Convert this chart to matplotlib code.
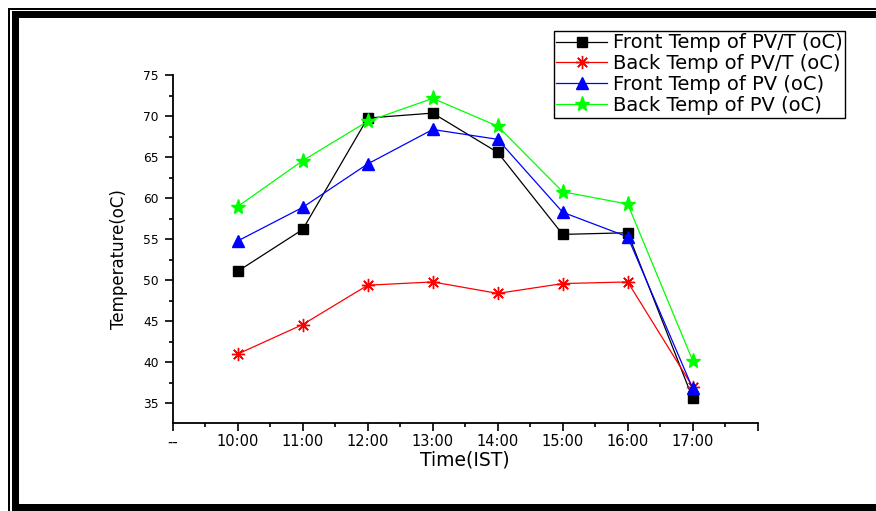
import numpy as np
import matplotlib
matplotlib.use("Agg")
import matplotlib.pyplot as plt
from matplotlib.patches import Rectangle

plt.rcParams['font.family'] = ['DejaVu Sans']

# data
times = ['--', '10:00', '11:00', '12:00', '13:00', '14:00', '15:00', '16:00', '17:00', '']
front_pvt = [51.1, 56.2, 69.8, 70.4, 65.6, 55.6, 55.8, 35.6]
back_pvt = [41.0, 44.6, 49.4, 49.8, 48.4, 49.6, 49.8, 37.0]
front_pv = [54.8, 58.9, 64.2, 68.4, 67.2, 58.3, 55.3, 36.8]
back_pv = [59.0, 64.6, 69.4, 72.2, 68.8, 60.8, 59.3, 40.2]

W, H = 876, 511
fig = plt.figure(figsize=(W / 100, H / 100), dpi=100)

# axes placement in pixels (left, top, right, bottom)
ax = fig.add_axes([172.7 / W, 1 - 423.3 / H, (757.7 - 172.7) / W, (423.3 - 75) / H])

x = np.arange(1, len(front_pvt) + 1)
lw = 0.9
ax.plot(x, front_pvt, color='black', lw=lw, marker='s', ms=6.5, label='Front Temp of PV/T (oC)')
ax.plot(x, back_pvt, color='red', lw=lw, marker=(8, 2, 0), ms=9.5, mew=1.0, label='Back Temp of PV/T (oC)')
ax.plot(x, front_pv, color='blue', lw=lw, marker='^', ms=9, label='Front Temp of PV (oC)')
ax.plot(x, back_pv, color='#00ff00', lw=lw, marker='*', ms=11, label='Back Temp of PV (oC)')

ax.set_xlim(0, len(times) - 1)
ax.set_ylim(32.55, 75.05)
ax.set_xticks(np.arange(len(times)))
ax.set_xticklabels(times)
ax.set_xticks(np.arange(0.5, len(times) - 1, 1), minor=True)
ax.set_yticks(np.arange(35, 76, 5))
ax.set_yticks(np.arange(37.5, 75, 5), minor=True)

for side in ['top', 'right']:
    ax.spines[side].set_visible(False)
for side in ['left', 'bottom']:
    ax.spines[side].set_linewidth(1.3)

ax.tick_params(axis='both', which='major', direction='out', length=6, width=1.2)
ax.tick_params(axis='both', which='minor', direction='out', length=3, width=1.2)
ax.tick_params(axis='x', labelsize=10.5, pad=2)
ax.tick_params(axis='y', labelsize=8.8, pad=4)

ax.set_xlabel('Time(IST)', fontsize=13.5)
ax.xaxis.set_label_coords(0.5, -0.077)
ax.set_ylabel('Temperature(oC)', fontsize=12)
ax.yaxis.set_label_coords(-0.077, 0.472)

leg = fig.legend(loc='upper left', bbox_to_anchor=(554 / W, 1 - 31 / H), fontsize=14,
                 frameon=True, fancybox=False, framealpha=1, edgecolor='black',
                 borderaxespad=0, borderpad=0.12, labelspacing=0.1,
                 handlelength=2.6, handletextpad=0.3)
leg.get_frame().set_linewidth(1.0)

# double frame around the picture (left, top and bottom edges)
def px_rect(x0, y0, x1, y1):
    fig.add_artist(Rectangle((x0 / W, 1 - y1 / H), (x1 - x0) / W, (y1 - y0) / H,
                             transform=fig.transFigure, facecolor='black',
                             edgecolor='none', clip_on=False))

px_rect(8, 8, W, 10)      # thin top
px_rect(8, 8, 10, H)      # thin left
px_rect(12, 11, W, 18)    # thick top
px_rect(12, 11, 19, H)    # thick left
px_rect(12, 504, W, H)    # thick bottom

fig.savefig('out.png', dpi=100)
